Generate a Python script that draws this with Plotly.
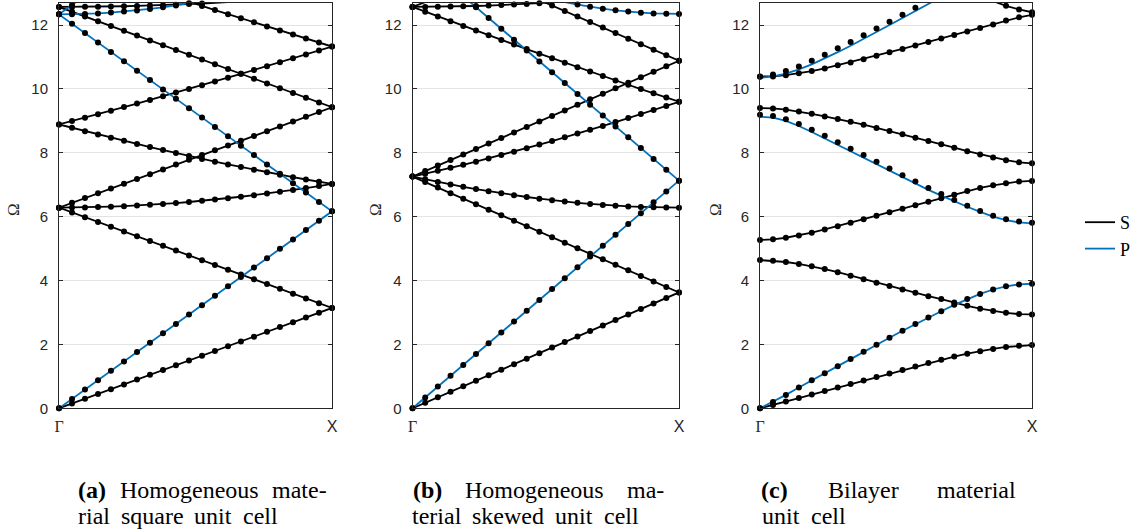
import plotly.graph_objects as go

W, H = 1148, 531
YMAX = 12.69
BLACK = "#000000"
BLUE = "#0072BD"
AXC = "#262626"

# ---------------- wavenumber grids (Gamma -> X) ----------------
k_a = [0.000, 0.150, 0.299, 0.449, 0.598, 0.748, 0.898, 1.047, 1.197, 1.346, 1.496,
       1.646, 1.795, 1.945, 2.094, 2.244, 2.394, 2.543, 2.693, 2.842, 2.992, 3.142]
k_b = [0.000, 0.173, 0.345, 0.518, 0.691, 0.864, 1.036, 1.209, 1.382, 1.555, 1.727,
       1.900, 2.073, 2.246, 2.418, 2.591, 2.764, 2.937, 3.109, 3.282, 3.455, 3.628]
k_c = [0.000, 0.150, 0.299, 0.449, 0.598, 0.748, 0.898, 1.047, 1.197, 1.346, 1.496,
       1.646, 1.795, 1.945, 2.094, 2.244, 2.394, 2.543, 2.693, 2.842, 2.992, 3.142]

# ---------------- (a) homogeneous, square cell ----------------
a_S0 = [0.000, 0.150, 0.299, 0.449, 0.598, 0.748, 0.898, 1.047, 1.197, 1.346, 1.496,
        1.646, 1.795, 1.945, 2.094, 2.244, 2.394, 2.543, 2.693, 2.842, 2.992, 3.142]
a_S1 = [6.283, 6.134, 5.984, 5.834, 5.685, 5.535, 5.386, 5.236, 5.086, 4.937, 4.787,
        4.638, 4.488, 4.339, 4.189, 4.039, 3.890, 3.740, 3.590, 3.441, 3.291, 3.142]
a_S2 = [6.283, 6.285, 6.290, 6.299, 6.312, 6.328, 6.347, 6.370, 6.396, 6.426, 6.459,
        6.495, 6.535, 6.577, 6.623, 6.672, 6.724, 6.778, 6.836, 6.896, 6.959, 7.025]
a_S3 = [6.283, 6.433, 6.582, 6.732, 6.882, 7.031, 7.181, 7.330, 7.480, 7.630, 7.779,
        7.929, 8.078, 8.228, 8.378, 8.527, 8.677, 8.826, 8.976, 9.126, 9.275, 9.425]
a_S4 = [8.886, 8.781, 8.677, 8.574, 8.473, 8.374, 8.276, 8.179, 8.084, 7.991, 7.899,
        7.809, 7.721, 7.636, 7.552, 7.470, 7.390, 7.312, 7.237, 7.164, 7.093, 7.025]
a_S5 = [8.886, 8.992, 9.100, 9.209, 9.319, 9.430, 9.542, 9.655, 9.769, 9.884, 10.000,
        10.117, 10.234, 10.353, 10.472, 10.592, 10.713, 10.835, 10.957, 11.080, 11.203, 11.327]
a_S6 = [12.566, 12.417, 12.267, 12.118, 11.968, 11.818, 11.669, 11.519, 11.370, 11.220, 11.070,
        10.921, 10.771, 10.622, 10.472, 10.322, 10.173, 10.023, 9.874, 9.724, 9.574, 9.425]
a_S7 = [12.566, 12.567, 12.570, 12.574, 12.581, 12.589, 12.598, 12.610, 12.623, 12.638, 12.655,
        12.674, 12.694, 12.716, 12.740, 12.765, 12.792, 12.821, 12.852, 12.884, 12.918, 12.953]
a_S8 = [14.050, 13.916, 13.783, 13.650, 13.517, 13.385, 13.253, 13.121, 12.990, 12.860, 12.729,
        12.599, 12.470, 12.341, 12.212, 12.084, 11.957, 11.830, 11.703, 11.577, 11.452, 11.327]
a_P0 = [0.000, 0.294, 0.587, 0.881, 1.175, 1.468, 1.762, 2.056, 2.349, 2.643, 2.937,
        3.230, 3.524, 3.818, 4.111, 4.405, 4.699, 4.992, 5.286, 5.580, 5.873, 6.167]
a_P1 = [12.334, 12.040, 11.747, 11.453, 11.159, 10.866, 10.572, 10.278, 9.985, 9.691, 9.397,
        9.104, 8.810, 8.516, 8.223, 7.929, 7.635, 7.342, 7.048, 6.754, 6.461, 6.167]
a_P2 = [12.334, 12.338, 12.348, 12.365, 12.390, 12.421, 12.459, 12.504, 12.556, 12.614, 12.679,
        12.750, 12.827, 12.911, 13.001, 13.097, 13.199, 13.306, 13.419, 13.537, 13.661, 13.790]
a_P3 = [12.334, 12.628, 12.921, 13.215, 13.509, 13.802, 14.096, 14.390, 14.683, 14.977, 15.271,
        15.564, 15.858, 16.152, 16.445, 16.739, 17.033, 17.326, 17.620, 17.914, 18.207, 18.501]

# ---------------- (b) homogeneous, skewed cell ----------------
b_S0 = [0.000, 0.173, 0.345, 0.518, 0.691, 0.864, 1.036, 1.209, 1.382, 1.555, 1.727,
        1.900, 2.073, 2.246, 2.418, 2.591, 2.764, 2.937, 3.109, 3.282, 3.455, 3.628]
b_S1 = [7.255, 7.082, 6.910, 6.737, 6.564, 6.392, 6.219, 6.046, 5.873, 5.701, 5.528,
        5.355, 5.182, 5.010, 4.837, 4.664, 4.491, 4.319, 4.146, 3.973, 3.800, 3.628]
b_S2 = [7.255, 7.428, 7.601, 7.773, 7.946, 8.119, 8.292, 8.464, 8.637, 8.810, 8.983,
        9.155, 9.328, 9.501, 9.674, 9.846, 10.019, 10.192, 10.365, 10.537, 10.710, 10.883]
b_S3 = [7.255, 7.343, 7.434, 7.528, 7.624, 7.723, 7.825, 7.929, 8.036, 8.145, 8.256,
        8.369, 8.484, 8.601, 8.720, 8.840, 8.963, 9.087, 9.212, 9.339, 9.468, 9.598]
b_S4 = [7.255, 7.170, 7.089, 7.011, 6.936, 6.864, 6.797, 6.733, 6.672, 6.616, 6.564,
        6.516, 6.473, 6.433, 6.398, 6.368, 6.342, 6.321, 6.305, 6.293, 6.286, 6.283]
b_S5 = [12.566, 12.716, 12.867, 13.018, None, None, None, None, None, None, None,
        None, None, None, None, None, None, None, None, None, None, None]
b_S6 = [12.566, 12.417, 12.268, 12.120, 11.973, 11.826, 11.680, 11.535, 11.391, 11.247, 11.104,
        10.962, 10.821, 10.681, 10.542, 10.403, 10.266, 10.130, 9.995, 9.862, 9.729, 9.598]
b_S7 = [12.566, 12.568, 12.571, 12.577, 12.585, 12.596, 12.609, 12.624, 12.642, 12.662, 12.685,
        12.709, 12.736, 12.766, 12.797, 12.831, 12.867, 12.905, 12.945, 12.988, 13.033, 13.080]
b_S8 = [14.510, 14.338, 14.165, 13.992, 13.819, 13.647, 13.474, 13.301, 13.129, 12.956, 12.783,
        12.610, 12.438, 12.265, 12.092, 11.919, 11.747, 11.574, 11.401, 11.228, 11.056, 10.883]
b_P0 = [0.000, 0.339, 0.679, 1.018, 1.358, 1.697, 2.037, 2.376, 2.716, 3.055, 3.394,
        3.734, 4.073, 4.413, 4.752, 5.092, 5.431, 5.770, 6.110, 6.449, 6.789, 7.128]
b_P1 = [14.257, 13.917, 13.578, 13.238, 12.899, 12.559, 12.220, 11.880, 11.541, 11.202, 10.862,
        10.523, 10.183, 9.844, 9.504, 9.165, 8.825, 8.486, 8.147, 7.807, 7.468, 7.128]
b_P2 = [14.257, 14.090, 13.930, 13.776, 13.628, 13.488, 13.355, 13.230, 13.111, 13.001, 12.899,
        12.805, 12.719, 12.641, 12.573, 12.513, 12.462, 12.421, 12.388, 12.365, 12.351, 12.347]

# ---------------- (c) bilayer ----------------
c_S1 = [0.00, 0.10, 0.21, 0.32, 0.43, 0.54, 0.65, 0.76, 0.87, 0.98, 1.09,
        1.20, 1.31, 1.42, 1.52, 1.62, 1.71, 1.79, 1.86, 1.92, 1.96, 1.98]
c_S2 = [4.64, 4.62, 4.58, 4.52, 4.45, 4.36, 4.26, 4.15, 4.04, 3.93, 3.83,
        3.72, 3.62, 3.51, 3.42, 3.31, 3.21, 3.12, 3.05, 2.99, 2.95, 2.94]
c_S3 = [5.27, 5.29, 5.34, 5.41, 5.50, 5.60, 5.70, 5.81, 5.92, 6.03, 6.14,
        6.25, 6.36, 6.47, 6.58, 6.69, 6.80, 6.90, 6.98, 7.05, 7.10, 7.12]
c_S4 = [9.40, 9.39, 9.35, 9.29, 9.22, 9.14, 9.06, 8.97, 8.88, 8.78, 8.68,
        8.58, 8.47, 8.37, 8.27, 8.16, 8.05, 7.95, 7.85, 7.77, 7.70, 7.67]
c_S5 = [10.39, 10.39, 10.43, 10.49, 10.56, 10.64, 10.74, 10.83, 10.93, 11.04, 11.15,
        11.25, 11.36, 11.47, 11.58, 11.69, 11.80, 11.91, 12.02, 12.14, 12.24, 12.32]
c_S6 = [None, None, None, None, None, None, None, None, None, None, None,
        None, None, None, None, None, 13.05, 12.90, 12.74, 12.60, 12.49, 12.40]
c_P1 = [0.00, 0.20, 0.42, 0.65, 0.88, 1.10, 1.32, 1.54, 1.77, 1.99, 2.21,
        2.43, 2.64, 2.84, 3.04, 3.24, 3.42, 3.58, 3.72, 3.82, 3.88, 3.90]
c_P2 = [9.13, 9.10, 9.00, 8.84, 8.65, 8.45, 8.25, 8.05, 7.85, 7.64, 7.44,
        7.23, 7.03, 6.84, 6.66, 6.48, 6.31, 6.15, 6.00, 5.89, 5.82, 5.79]
c_P2_dots = [9.19, 9.15, 9.05, 8.90, 8.72, 8.53, 8.33, 8.13, 7.93, 7.72, 7.51,
             7.30, 7.10, 6.90, 6.71, 6.52, 6.34, 6.18, 6.03, 5.92, 5.85, 5.81]
c_P3 = [10.35, 10.39, 10.48, 10.61, 10.77, 10.95, 11.15, 11.35, 11.56, 11.78, 12.00,
        12.22, 12.44, 12.66, 12.88, None, None, None, None, None, None, None]
c_P3_dots = [10.38, 10.45, 10.56, 10.70, 10.88, 11.07, 11.27, 11.47, 11.68, 11.89, 12.10,
             12.32, 12.54, 12.76, 12.98, None, None, None, None, None, None, None]

y_ticks = [0, 2, 4, 6, 8, 10, 12]
x_ticklabels = ["Γ", "X"]
# caption words: first line (justified) and second line
captions1 = [
    ["(a)", "Homogeneous", "mate-"],
    ["(b)", "Homogeneous", "ma-"],
    ["(c)", "Bilayer", "material"],
]
captions2 = [
    ["rial", "square", "unit", "cell"],
    ["terial", "skewed", "unit", "cell"],
    ["unit", "cell"],
]

panels = [
    dict(k=k_a, S=[a_S0, a_S1, a_S2, a_S3, a_S4, a_S5, a_S6, a_S7, a_S8],
         P=[a_P0, a_P1, a_P2, a_P3], dots=None),
    dict(k=k_b, S=[b_S0, b_S1, b_S2, b_S3, b_S4, b_S5, b_S6, b_S7, b_S8],
         P=[b_P0, b_P1, b_P2], dots=None),
    dict(k=k_c, S=[c_S1, c_S2, c_S3, c_S4, c_S5, c_S6],
         P=[c_P1, c_P2, c_P3],
         dots=[c_S1, c_S2, c_S3, c_S4, c_S5, c_S6, c_P1, c_P2_dots, c_P3_dots]),
]

xdom_px = [(59, 332), (412.5, 679), (760, 1032)]
ydom = [1 - 408.3 / H, 1 - 3 / H]

fig = go.Figure()
shown = {"S": False, "P": False}
for i, p in enumerate(panels):
    xa = "x" if i == 0 else f"x{i+1}"
    ya = "y" if i == 0 else f"y{i+1}"
    for name, bands, col in (("S", p["S"], BLACK), ("P", p["P"], BLUE)):
        for yv in bands:
            show = not shown[name]
            shown[name] = True
            fig.add_trace(go.Scatter(
                x=p["k"], y=yv, mode="lines", xaxis=xa, yaxis=ya,
                line=dict(color=col, width=1.8), name=name, legendgroup=name,
                showlegend=show, hoverinfo="skip"))
    dot_sets = p["dots"] if p["dots"] is not None else p["S"] + p["P"]
    for yv in dot_sets:
        yy = [v if (v is not None and v <= YMAX + 0.02) else None for v in yv]
        fig.add_trace(go.Scatter(
            x=p["k"], y=yy, mode="markers", xaxis=xa, yaxis=ya,
            marker=dict(color=BLACK, size=6), showlegend=False,
            cliponaxis=False, hoverinfo="skip"))

layout = dict(
    width=W, height=H, autosize=False,
    margin=dict(l=0, r=0, t=0, b=0, autoexpand=False),
    paper_bgcolor="white", plot_bgcolor="white",
    showlegend=True,
    legend=dict(x=1080 / W, y=1 - 204 / H, xanchor="left", yanchor="top",
                font=dict(family="Liberation Serif", size=18, color=BLACK),
                itemwidth=30, bgcolor="rgba(0,0,0,0)", tracegroupgap=0),
)
for i, p in enumerate(panels):
    sx = "" if i == 0 else str(i + 1)
    kmax = p["k"][-1]
    layout[f"xaxis{sx}"] = dict(
        domain=[xdom_px[i][0] / W, xdom_px[i][1] / W], range=[0, kmax],
        anchor=f"y{sx}", tickvals=[0, kmax], automargin=False,
        ticktext=['<span style="font-family:Liberation Serif">' + x_ticklabels[0] + '</span>',
                  x_ticklabels[1]],
        ticks="", showgrid=False, zeroline=False, showline=True, mirror=True,
        linecolor=AXC, linewidth=1,
        tickfont=dict(family="Liberation Sans", size=16, color=AXC),
        ticklabelstandoff=3, fixedrange=True)
    layout[f"yaxis{sx}"] = dict(
        domain=ydom, range=[0, YMAX], anchor=f"x{sx}", tickvals=y_ticks,
        automargin=False,
        ticks="inside", ticklen=4, tickcolor=AXC, showline=True, mirror="ticks",
        linecolor=AXC, linewidth=1, showgrid=True, gridcolor="#e3e3e3", gridwidth=1,
        zeroline=False, tickfont=dict(family="Liberation Sans", size=15, color=AXC),
        ticklabelstandoff=7, fixedrange=True)
fig.update_layout(**layout)

ann = []
omega_x = [13, 375, 715]
for xo in omega_x:
    ann.append(dict(text="Ω", x=xo / W, y=1 - 210 / H, xref="paper", yref="paper",
                    xanchor="center", yanchor="middle",
                    showarrow=False, textangle=-90,
                    font=dict(family="Liberation Serif", size=17, color=AXC)))

# caption word centres (px), mimicking LaTeX justified subcaptions
cx1 = [[92, 189, 299], [427, 534, 645], [775, 863, 977]]
cx2 = [[94, 152, 213, 260], [437, 508, 574, 621], [781, 828]]
for ci in range(3):
    for wi, txt in enumerate(captions1[ci]):
        t = f"<b>{txt}</b>" if wi == 0 else txt
        ann.append(dict(text=t, x=cx1[ci][wi] / W, y=1 - 490 / H,
                        xref="paper", yref="paper", xanchor="center", yanchor="middle",
                        showarrow=False,
                        font=dict(family="Liberation Serif", size=24, color=BLACK)))
    for wi, txt in enumerate(captions2[ci]):
        ann.append(dict(text=txt, x=cx2[ci][wi] / W, y=1 - 516 / H,
                        xref="paper", yref="paper", xanchor="center", yanchor="middle",
                        showarrow=False,
                        font=dict(family="Liberation Serif", size=24, color=BLACK)))
fig.update_layout(annotations=ann)

fig.write_html("out.html",
               config={"displayModeBar": False, "staticPlot": True},
               post_script="document.body.style.margin='0';"
                           "document.body.style.overflow='hidden';")
